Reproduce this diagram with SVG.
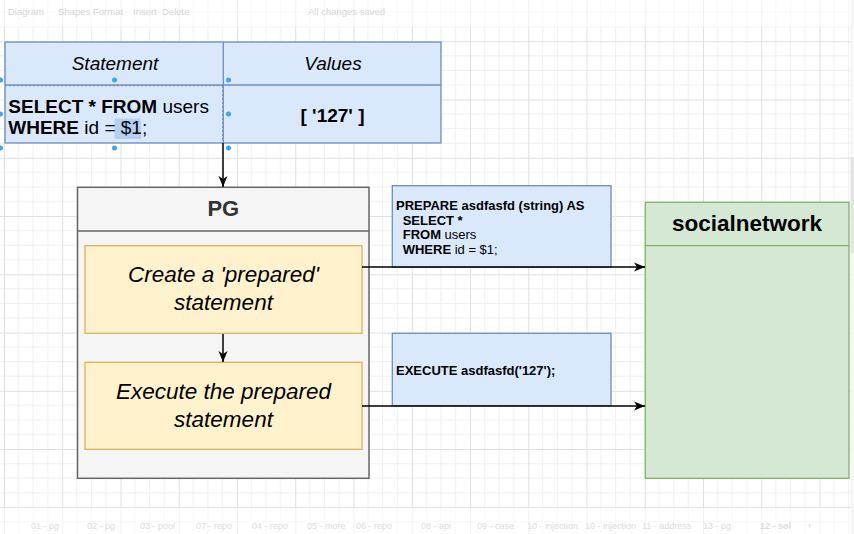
<svg xmlns="http://www.w3.org/2000/svg" width="854" height="534" viewBox="0 0 854 534">
  <style>
    text { font-family: "Liberation Sans", Arial, Helvetica, sans-serif; fill: #000; }
    .blue { fill: #dae8fc; stroke: #6c8ebf; stroke-width: 1.3; }
    .yellow { fill: #fff2cc; stroke: #d6b656; stroke-width: 1.3; }
    .gray { fill: #f5f5f5; stroke: #666666; stroke-width: 1.5; }
    .green { fill: #d5e8d4; stroke: #82b366; stroke-width: 1.3; }
    .b { font-weight: bold; }
    .n { font-weight: normal; }
    .it { font-style: italic; }
    .ui { fill: #d6d6d6; font-size: 9.5px; }
    .tab { fill: #dcdcdc; font-size: 9px; }
    .edge { fill: none; stroke: #000; stroke-width: 1.5; }
    .handle { fill: #3da5f4; }
  </style>
  <defs>
    <pattern id="grid" patternUnits="userSpaceOnUse" x="4" y="41.3" width="58.25" height="58.25">
      <path d="M14.56 0V58.25M29.12 0V58.25M43.69 0V58.25M0 14.56H58.25M0 29.12H58.25M0 43.69H58.25" stroke="#efefef" stroke-width="1" fill="none"/>
      <path d="M0.5 0V58.25M0 0.5H58.25" stroke="#e0e0e0" stroke-width="1" fill="none"/>
    </pattern>
    <marker id="arrow" markerUnits="userSpaceOnUse" markerWidth="12" markerHeight="10" refX="11" refY="5" orient="auto">
      <path d="M0,0.5 L11,5 L0,9.5 L3,5 Z" fill="#000"/>
    </marker>
  </defs>

  <rect x="0" y="0" width="854" height="534" fill="#ffffff"/>
  <rect x="0" y="0" width="854" height="534" fill="url(#grid)"/>

  <!-- faded editor chrome -->
  <g id="toolbar">
    <rect x="0" y="0" width="854" height="27" fill="#ffffff" opacity="0.55"/>
    <text class="ui" x="8" y="14.5">Diagram</text>
    <text class="ui" x="58" y="14.5">Shapes</text>
    <text class="ui" x="93" y="14.5">Format</text>
    <text class="ui" x="133" y="14.5">Insert</text>
    <text class="ui" x="162" y="14.5">Delete</text>
    <text class="ui" x="308" y="14.5">All changes saved</text>
  </g>
  <g id="tabs">
    <rect x="0" y="508" width="854" height="26" fill="#ffffff" opacity="0.55"/>
    <text class="tab" x="31" y="529">01 - pg</text>
    <text class="tab" x="87" y="529">02 - pg</text>
    <text class="tab" x="140" y="529">03 - pool</text>
    <text class="tab" x="196" y="529">07 - repo</text>
    <text class="tab" x="252" y="529">04 - repo</text>
    <text class="tab" x="307" y="529">05 - more</text>
    <text class="tab" x="356" y="529">06 - repo</text>
    <text class="tab" x="421" y="529">08 - api</text>
    <text class="tab" x="477" y="529">09 - case</text>
    <text class="tab" x="527" y="529">10 - injection</text>
    <text class="tab" x="585" y="529">10 - injection</text>
    <text class="tab" x="642" y="529">11 - address</text>
    <text class="tab" x="703" y="529">13 - pg</text>
    <text class="tab b" x="760" y="529">12 - sol</text>
    <text class="tab" x="807" y="529">+</text>
  </g>
  <rect x="850.5" y="0" width="3.5" height="534" fill="#f6f6f6"/>
  <rect x="850.5" y="157" width="3.5" height="96" fill="#e4e4e4"/>

  <!-- table node -->
  <g id="table">
    <rect class="blue" x="5" y="42" width="436" height="101"/>
    <line x1="5" y1="85" x2="441" y2="85" stroke="#6c8ebf" stroke-width="1.3"/>
    <line x1="223.3" y1="42" x2="223.3" y2="143" stroke="#6c8ebf" stroke-width="1.3"/>
    <line x1="5" y1="85.8" x2="223" y2="85.8" stroke="#8a8a8a" stroke-width="0.8" stroke-dasharray="2,2"/>
    <line x1="222.5" y1="86" x2="222.5" y2="142" stroke="#8a8a8a" stroke-width="0.8" stroke-dasharray="2,2"/>
    <text class="it" x="115" y="70" font-size="19" text-anchor="middle">Statement</text>
    <text class="it" x="333" y="70" font-size="19" text-anchor="middle">Values</text>
    <rect x="114.5" y="118.5" width="26.5" height="20.5" fill="#b3cff2"/>
    <text x="8.3" y="112.7" font-size="19"><tspan class="b">SELECT * FROM</tspan><tspan class="n"> users</tspan></text>
    <text x="8.3" y="134.3" font-size="19"><tspan class="b">WHERE</tspan><tspan class="n"> id = $1;</tspan></text>
    <text class="b" x="332.5" y="122" font-size="19" text-anchor="middle">[ '127' ]</text>
    <circle class="handle" cx="0.5" cy="80" r="2.5"/>
    <circle class="handle" cx="114.5" cy="80" r="2.5"/>
    <circle class="handle" cx="228.5" cy="80" r="2.5"/>
    <circle class="handle" cx="0.5" cy="114" r="2.5"/>
    <circle class="handle" cx="228.5" cy="114" r="2.5"/>
    <circle class="handle" cx="0.5" cy="148" r="2.5"/>
    <circle class="handle" cx="114.5" cy="148" r="2.5"/>
    <circle class="handle" cx="228.5" cy="148" r="2.5"/>
  </g>

  <!-- PG container -->
  <g id="pg">
    <rect class="gray" x="77.5" y="187.3" width="291.5" height="291"/>
    <line x1="77.5" y1="231" x2="369" y2="231" stroke="#666666" stroke-width="1.5"/>
    <text class="b" x="223.3" y="216" font-size="22" text-anchor="middle" style="fill:#333333">PG</text>
  </g>

  <g id="create-prepared">
    <rect class="yellow" x="85" y="245.7" width="277" height="87.6"/>
    <text class="it" x="223.5" y="282" font-size="22.5" text-anchor="middle">Create a 'prepared'</text>
    <text class="it" x="223.5" y="309.5" font-size="22.5" text-anchor="middle">statement</text>
  </g>

  <g id="execute-prepared">
    <rect class="yellow" x="85" y="362.3" width="277" height="87"/>
    <text class="it" x="223.5" y="399.3" font-size="22.5" text-anchor="middle">Execute the prepared</text>
    <text class="it" x="223.5" y="427" font-size="22.5" text-anchor="middle">statement</text>
  </g>

  <g id="prepare-sql">
    <rect class="blue" x="392.3" y="185.7" width="218.7" height="81.6"/>
    <text class="b" x="396" y="210" font-size="13">PREPARE asdfasfd (string) AS</text>
    <text class="b" x="402.7" y="224.5" font-size="13">SELECT *</text>
    <text x="402.7" y="239" font-size="13"><tspan class="b">FROM</tspan><tspan class="n"> users</tspan></text>
    <text x="402.7" y="254" font-size="13"><tspan class="b">WHERE</tspan><tspan class="n"> id = $1;</tspan></text>
  </g>

  <g id="execute-sql">
    <rect class="blue" x="392.3" y="333.3" width="218.7" height="72.4"/>
    <text class="b" x="396" y="375" font-size="13">EXECUTE asdfasfd('127');</text>
  </g>

  <g id="socialnetwork">
    <rect class="green" x="645.3" y="202.3" width="203.7" height="276"/>
    <line x1="645.3" y1="245.7" x2="849" y2="245.7" stroke="#82b366" stroke-width="1.3"/>
    <text class="b" x="747" y="230.7" font-size="22.5" text-anchor="middle">socialnetwork</text>
  </g>

  <!-- connectors -->
  <g id="connectors">
    <line class="edge" x1="223" y1="143" x2="223" y2="187" marker-end="url(#arrow)"/>
    <line class="edge" x1="223" y1="334" x2="223" y2="362" marker-end="url(#arrow)"/>
    <line class="edge" x1="362" y1="267" x2="645" y2="267" marker-end="url(#arrow)"/>
    <line class="edge" x1="362" y1="406" x2="645" y2="406" marker-end="url(#arrow)"/>
  </g>
</svg>
